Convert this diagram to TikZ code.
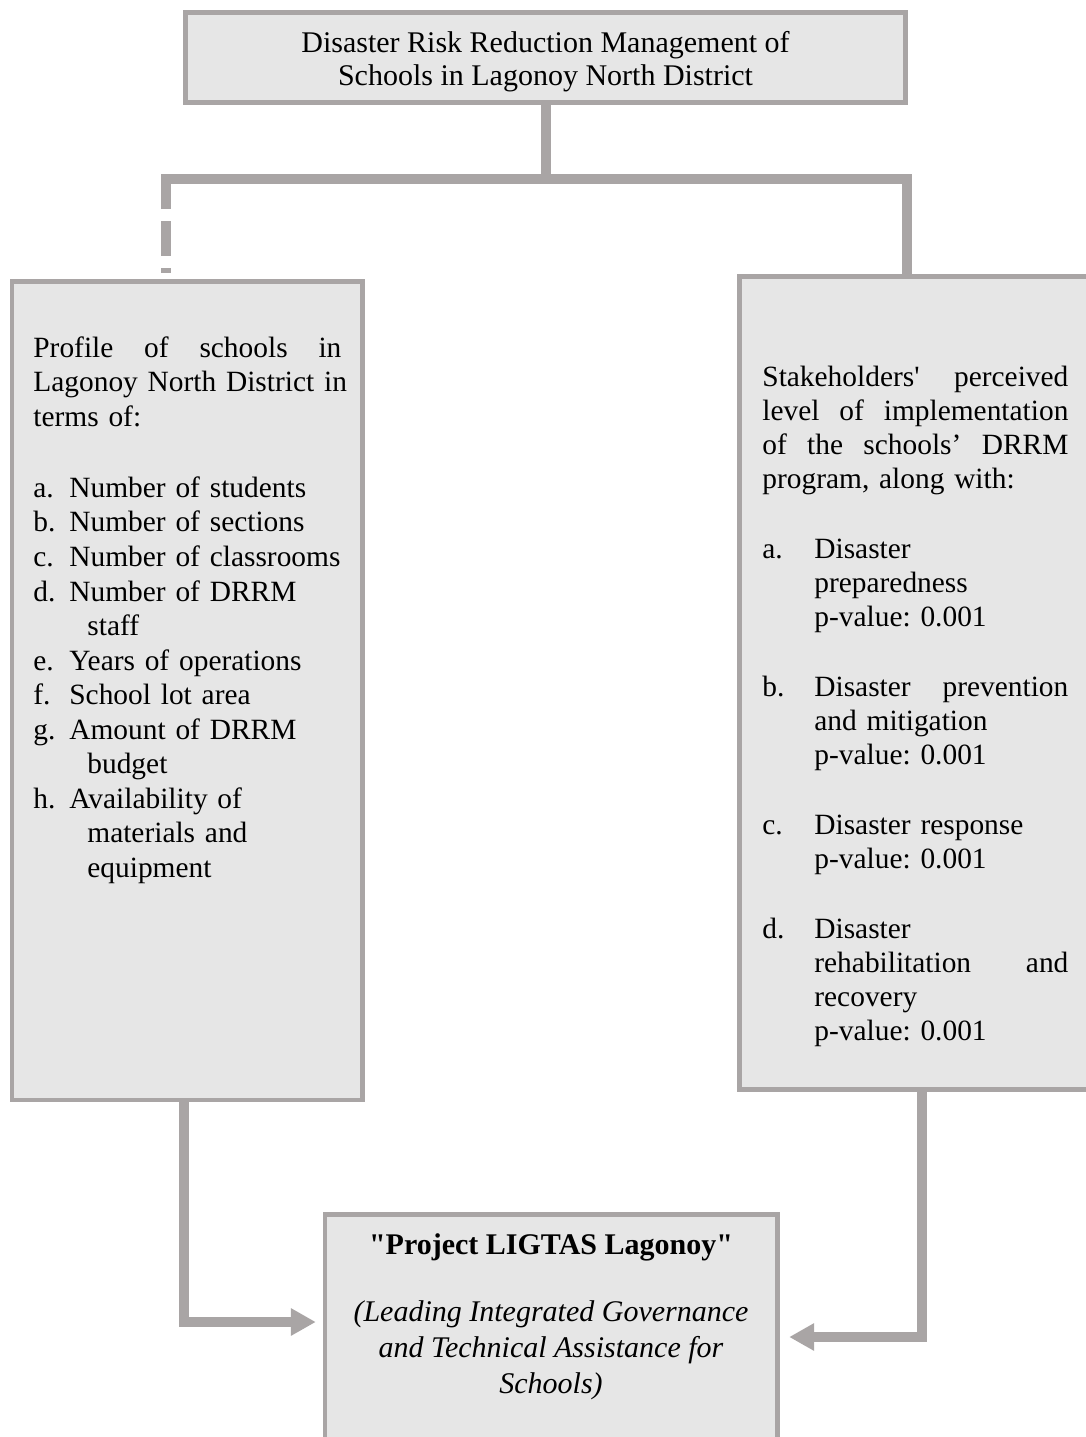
\documentclass[tikz,border=0pt]{standalone}
\usepackage{fontspec}
\setmainfont{Liberation Serif}
\usetikzlibrary{arrows.meta}
\definecolor{linegray}{HTML}{A9A5A5}
\definecolor{boxfill}{HTML}{E6E6E6}
\tikzset{
  box/.style={draw=linegray, fill=boxfill, line width=2.2pt, inner sep=0pt},
  txt/.style={inner sep=0pt, align=left, font=\fontsize{14.7}{17.28}\selectfont},
  conn/.style={draw=linegray, line width=5pt, line join=miter},
  arr/.style={conn, -{Triangle[length=12.5pt,width=13pt]}},
}
\newcommand{\itm}[1]{\makebox[18pt][l]{#1}}
\newcommand{\ritm}[1]{\makebox[26pt][l]{#1}}
\frenchspacing
\hyphenpenalty=10000

\begin{document}
\begin{tikzpicture}[x=0.5pt,y=-0.5pt]
  \useasboundingbox (0,0) rectangle (1086,1437);
  \node[box, minimum width=360pt, minimum height=45pt] (top) at (545.5,57.5) {};
  \node[box, minimum width=175.25pt, minimum height=409.25pt] (profile) at (187.25,690.75) {};
  \node[box, minimum width=176.25pt, minimum height=406.5pt] (stake) at (915.75,683) {};
  \node[box, minimum width=226.25pt, minimum height=117.75pt] (project) at (551.25,1332.25) {};

  \node[txt, align=center, font=\fontsize{15}{16.5}\selectfont] (toptxt) at (545.5,62)
    {Disaster Risk Reduction Management of\\Schools in Lagonoy North District};
  \node[txt, text width=165pt, anchor=north west] (profiletxt) at (33,336) {%
    \hbox to 154pt{Profile\hfill of\hfill schools\hfill in}\\
    Lagonoy North District in\\
    terms of:\\[18.3pt]
    \itm{a.}Number of students\\
    \itm{b.}Number of sections\\
    \itm{c.}Number of classrooms\\
    \itm{d.}Number of DRRM\\
    \hspace*{27pt}staff\\
    \itm{e.}Years of operations\\
    \itm{f.}School lot area\\
    \itm{g.}Amount of DRRM\\
    \hspace*{27pt}budget\\
    \itm{h.}Availability of\\
    \hspace*{27pt}materials and\\
    \hspace*{27pt}equipment};
  \node[txt, text width=153pt, anchor=north west, font=\fontsize{14.7}{17}\selectfont] (staketxt) at (762,365.5) {%
    Stakeholders\textquotesingle\hfill perceived\\
    level\hfill of\hfill implementation\\
    of\hfill the\hfill schools’\hfill DRRM\\
    program, along with:\\[18pt]
    \ritm{a.}Disaster\\
    \hspace*{26pt}preparedness\\
    \hspace*{26pt}p-value: 0.001\\[18pt]
    \ritm{b.}Disaster\hfill prevention\\
    \hspace*{26pt}and mitigation\\
    \hspace*{26pt}p-value: 0.001\\[18pt]
    \ritm{c.}Disaster response\\
    \hspace*{26pt}p-value: 0.001\\[18pt]
    \ritm{d.}Disaster\\
    \hspace*{26pt}rehabilitation\hfill and\\
    \hspace*{26pt}recovery\\
    \hspace*{26pt}p-value: 0.001};
  \node[txt, align=center, anchor=north, font=\fontsize{15}{18}\selectfont] (projecttxt) at (551,1233) {%
    \textbf{\textquotedbl Project LIGTAS Lagonoy\textquotedbl}\\[15.5pt]
    \textit{(Leading Integrated Governance}\\
    \textit{and Technical Assistance for}\\
    \textit{Schools)}};

  \coordinate (lcorner) at (166,179);
  \coordinate (rcorner) at (907,179);
  \coordinate (lturn) at (184,1322);
  \coordinate (rturn) at (922,1337);
  \draw[conn] (top.south) -- (top.south |- lcorner);
  \draw[conn] ([yshift=-15pt]lcorner) -- (lcorner) -- (rcorner) -- (stake.north -| rcorner);
  \draw[conn, dash pattern=on 17.5pt off 6pt, shorten >=3pt] ([yshift=-21pt]lcorner) -- (profile.north -| lcorner);
  \draw[arr, shorten >=3.5pt] (profile.south -| lturn) -- (lturn) -- (project.west |- lturn);
  \draw[arr, shorten >=4.75pt] (stake.south -| rturn) -- (rturn) -- (project.east |- rturn);
\end{tikzpicture}
\end{document}
